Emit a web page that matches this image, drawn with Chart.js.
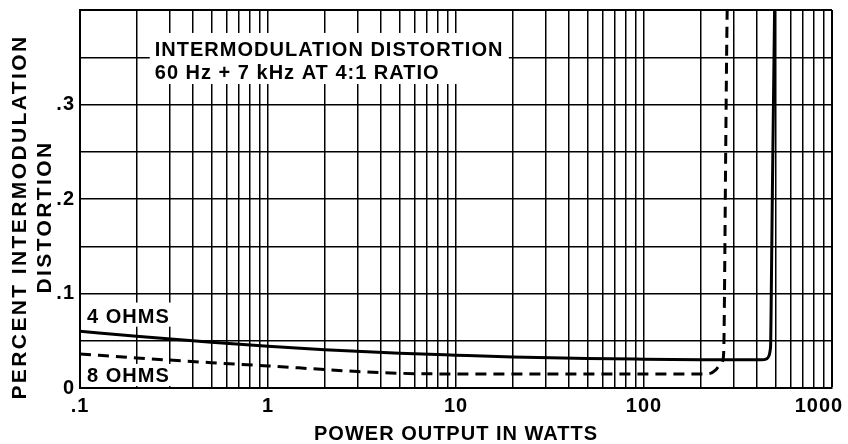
<!DOCTYPE html>
<html>
<head>
<meta charset="utf-8">
<script src="https://cdn.jsdelivr.net/npm/chart.js@4/dist/chart.umd.min.js"></script>
<style>
html,body{margin:0;padding:0;background:#fff;}
canvas{display:block;}
</style>
</head>
<body>
<canvas id="c" width="848" height="444"></canvas>
<script>
// ---- data (watts vs percent IM distortion) ----
const watts4 = [0.1, 0.2, 0.5, 1, 2, 5, 10, 20, 50, 100, 200, 420, 450, 462, 469, 472, 475, 495, 500];
const imd4   = [0.060, 0.0548, 0.0485, 0.0442, 0.0405, 0.0368, 0.0347, 0.0328, 0.0312, 0.0305, 0.0300, 0.0298, 0.031, 0.034, 0.040, 0.048, 0.094, 0.40, 0.42];
const watts8 = [0.1, 0.2, 0.5, 1, 2, 3, 5, 7, 10, 20, 50, 100, 200, 225, 240, 255, 263, 266, 268, 272, 277, 279];
const imd8   = [0.036, 0.0318, 0.0268, 0.0234, 0.0195, 0.0174, 0.0156, 0.0150, 0.0149, 0.0149, 0.0149, 0.0149, 0.0149, 0.0155, 0.019, 0.025, 0.030, 0.045, 0.10, 0.25, 0.40, 0.42];
const seriesNames = ['4 OHMS', '8 OHMS'];

// ---- axes ----
const xGridValues = [0.1,0.2,0.3,0.4,0.5,0.6,0.7,0.8,0.9,
                     1,2,3,4,5,6,7,8,9,
                     10,20,30,40,50,60,70,80,90,
                     100,200,300,400,500,600,700,800,900,1000];
const xTickValues = [0.1, 1, 10, 100, 1000];
const xTickLabels = ['.1', '1', '10', '100', '1000'];
const yTickValues = [0, 0.1, 0.2, 0.3];
const yTickLabels = ['0', '.1', '.2', '.3'];
const xAxisTitle = 'POWER OUTPUT IN WATTS';
const yAxisTitle = ['PERCENT INTERMODULATION', 'DISTORTION'];
const chartTitle = ['INTERMODULATION DISTORTION', '60 Hz + 7 kHz AT 4:1 RATIO'];

const FONT = '"Liberation Sans", Arial, Helvetica, sans-serif';
Chart.defaults.font.family = FONT;
Chart.defaults.font.weight = 'bold';
Chart.defaults.font.size = 20;
Chart.defaults.color = '#000';

function near(a, b){ return Math.abs(a - b) < 1e-9 * Math.max(1, Math.abs(b)); }

const spacing = {
  id: 'spacing',
  beforeUpdate(chart){ chart.ctx.letterSpacing = '1px'; },
  beforeDraw(chart){ chart.ctx.letterSpacing = '1px'; }
};

// annotation boxes in data units: [xmin, xmax, ymin, ymax], text anchor [x, y of first baseline]
const notes = [
  { box: [0.235, 19.1, 0.3217, 0.3757], at: [0.25, 0.3513], lines: chartTitle },
  { box: [0.103, 0.328, 0.0649, 0.0904], at: [0.109, 0.0688], lines: [seriesNames[0]] },
  { box: [0.103, 0.328, 0.0021, 0.0255], at: [0.109, 0.0063], lines: [seriesNames[1]] }
];
const notesPlugin = {
  id: 'notes',
  beforeDatasetsDraw(chart){
    const {ctx, scales: {x, y}} = chart;
    ctx.save();
    notes.forEach(n => {
      const x0 = x.getPixelForValue(n.box[0]), x1 = x.getPixelForValue(n.box[1]);
      const y0 = y.getPixelForValue(n.box[2]), y1 = y.getPixelForValue(n.box[3]);
      ctx.fillStyle = '#fff';
      ctx.fillRect(x0, y1, x1 - x0, y0 - y1);
      ctx.fillStyle = '#000';
      ctx.font = 'bold 20px ' + FONT;
      ctx.textAlign = 'left';
      ctx.textBaseline = 'alphabetic';
      n.lines.forEach((t, i) => ctx.fillText(t, x.getPixelForValue(n.at[0]), y.getPixelForValue(n.at[1]) + i * 23));
    });
    ctx.restore();
  }
};

new Chart(document.getElementById('c'), {
  type: 'line',
  data: {
    datasets: [
      { label: seriesNames[0], data: watts4.map((w, i) => ({x: w, y: imd4[i]})),
        borderColor: '#000', borderWidth: 3, pointRadius: 0, fill: false,
        cubicInterpolationMode: 'monotone', clip: 0 },
      { label: seriesNames[1], data: watts8.map((w, i) => ({x: w, y: imd8[i]})),
        borderColor: '#000', borderWidth: 3, borderDash: [11, 7], pointRadius: 0, fill: false,
        cubicInterpolationMode: 'monotone', clip: 0 }
    ]
  },
  options: {
    responsive: false,
    animation: false,
    events: [],
    layout: { padding: { left: 0, right: 16, top: 10, bottom: 0 } },
    plugins: { legend: { display: false }, tooltip: { enabled: false } },
    scales: {
      x: {
        type: 'logarithmic', min: 0.1, max: 1000,
        afterBuildTicks(s){ s.ticks = xGridValues.map(v => ({value: v})); },
        afterFit(s){ s.height = 56; s.paddingLeft = 0; s.paddingRight = 0; },
        grid: { color: '#000', drawTicks: false,
          lineWidth: c => (c.tick && near(c.tick.value, 1000)) ? 2 : 1.5 },
        border: { color: '#000', width: 2 },
        ticks: {
          autoSkip: false, maxRotation: 0, padding: 6,
          callback(v){
            const i = xTickValues.findIndex(t => near(t, v));
            if (i < 0) return '';
            return i === xTickValues.length - 1 ? xTickLabels[i] + '    ' : xTickLabels[i];
          }
        },
        title: { display: true, text: xAxisTitle, font: { size: 20, weight: 'bold', lineHeight: 1.0 },
          padding: { top: 0, bottom: 0 } }
      },
      y: {
        type: 'linear', min: 0, max: 0.4,
        afterFit(s){
          s.width = 80; s.paddingTop = 0; s.paddingBottom = 0;
          if (!s._spacedTitle) {
            const orig = s.drawTitle;
            s.drawTitle = function(){
              const ctx = this.ctx;
              ctx.save();
              ctx.letterSpacing = '2.4px';
              ctx.translate(0, 18);
              orig.call(this);
              ctx.restore();
            };
            s._spacedTitle = true;
          }
        },
        grid: { color: '#000', drawTicks: false,
          lineWidth: c => (c.tick && near(c.tick.value, 0.4)) ? 2 : 1.5 },
        border: { color: '#000', width: 2 },
        ticks: {
          stepSize: 0.05, autoSkip: false, padding: 5,
          callback(v){
            const i = yTickValues.findIndex(t => Math.abs(t - v) < 1e-6);
            return i < 0 ? '' : yTickLabels[i];
          }
        },
        title: { display: true, text: yAxisTitle, font: { size: 21, weight: 'bold', lineHeight: 1.15 },
          padding: { top: 8.5, bottom: 0 } }
      }
    }
  },
  plugins: [spacing, notesPlugin]
});
</script>
</body>
</html>
